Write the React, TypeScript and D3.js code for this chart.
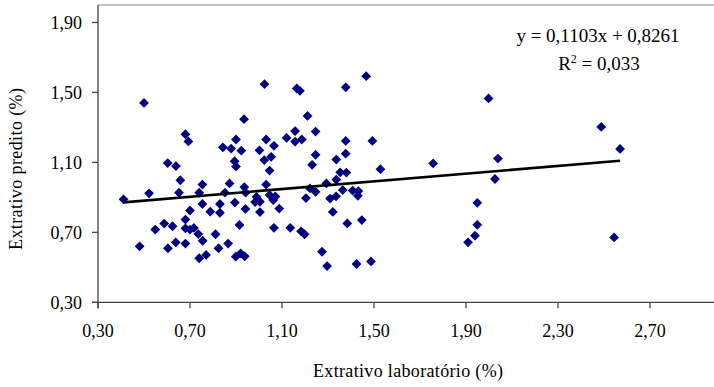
import React from "react";
import * as d3 from "d3";

// Extrativo laboratório (%) – x values
const labX: number[] = [
  0.50, 1.024, 1.164, 1.178, 1.377, 1.466, 0.935, 1.211, 0.680, 0.693,
  0.900, 0.843, 0.879, 0.923, 0.894, 0.900, 0.603, 0.639, 1.031, 1.065,
  1.002, 1.023, 1.053, 1.046, 1.120, 1.157, 1.246, 1.157, 1.186, 1.377,
  1.493, 1.246, 1.377, 1.231, 1.336, 1.353, 1.380, 1.528, 0.411, 0.522,
  0.658, 0.652, 0.754, 0.740, 0.872, 0.852, 0.936, 0.942, 1.031, 0.989,
  1.004, 0.983, 1.046, 1.071, 1.062, 1.004, 1.088, 1.204, 1.222, 1.246,
  1.293, 1.336, 1.309, 1.335, 1.364, 1.407, 1.432, 1.430, 1.321, 1.384,
  1.447, 1.065, 1.136, 1.183, 1.198, 1.274, 1.296, 1.424, 1.487, 0.754,
  0.700, 0.788, 0.830, 0.830, 0.895, 0.941, 0.680, 0.549, 0.588, 0.624,
  0.680, 0.700, 0.717, 0.736, 0.755, 0.811, 0.915, 0.481, 0.604, 0.638,
  0.680, 0.824, 0.866, 0.740, 0.770, 0.899, 0.920, 0.938, 1.757, 1.998,
  2.039, 2.026, 1.949, 1.949, 1.939, 1.909, 2.488, 2.570, 2.544,
];

// Extrativo predito (%) – y values
const predY: number[] = [
  1.44, 1.547, 1.523, 1.509, 1.529, 1.593, 1.347, 1.366, 1.261, 1.220,
  1.231, 1.186, 1.179, 1.167, 1.107, 1.077, 1.096, 1.079, 1.231, 1.195,
  1.169, 1.113, 1.132, 1.053, 1.240, 1.279, 1.276, 1.219, 1.231, 1.223,
  1.223, 1.143, 1.150, 1.086, 1.116, 1.043, 1.042, 1.061, 0.889, 0.923,
  0.998, 0.927, 0.973, 0.927, 0.980, 0.927, 0.959, 0.927, 0.973, 0.903,
  0.875, 0.873, 0.914, 0.905, 0.885, 0.816, 0.836, 0.896, 0.951, 0.932,
  0.980, 1.001, 0.893, 0.906, 0.942, 0.939, 0.936, 0.909, 0.817, 0.751,
  0.770, 0.726, 0.726, 0.706, 0.689, 0.589, 0.507, 0.519, 0.534, 0.862,
  0.825, 0.818, 0.862, 0.812, 0.870, 0.834, 0.773, 0.716, 0.750, 0.735,
  0.723, 0.716, 0.725, 0.690, 0.652, 0.689, 0.742, 0.620, 0.609, 0.643,
  0.636, 0.609, 0.636, 0.552, 0.571, 0.561, 0.580, 0.563, 1.094, 1.466,
  1.122, 1.005, 0.869, 0.743, 0.681, 0.643, 1.303, 1.177, 0.671,
];

const xTicks = [0.3, 0.7, 1.1, 1.5, 1.9, 2.3, 2.7];
const yTicks = [0.3, 0.7, 1.1, 1.5, 1.9];
const slope = 0.1103;
const intercept = 0.8261;
const eqLabel = "y = 0,1103x + 0,8261";
const r2Value = "0,033";
const xTitle = "Extrativo laboratório (%)";
const yTitle = "Extrativo predito (%)";

const W = 714;
const H = 387;
const FONT = "'Liberation Serif', 'Times New Roman', serif";

export default function App() {
  const x = d3.scaleLinear().domain([0.3, 3.0]).range([98, 719]);
  const y = d3.scaleLinear().domain([0.3, 2.0]).range([302.3, 5]);
  const fmt = (v: number) => v.toFixed(2).replace(".", ",");
  const pts = labX.map((v, i) => ({ x: v, y: predY[i] }));
  const sym = d3.symbol().type(d3.symbolSquare).size(48)();
  const [xmin, xmax] = d3.extent(labX) as [number, number];
  const line = d3.line<number>().x((d) => x(d)).y((d) => y(slope * d + intercept));

  return (
    <div style={{ position: "absolute", left: 0, top: 0 }}>
      <svg width={W} height={H} style={{ display: "block", background: "#fff" }}>
        {/* top border */}
        <line x1={98} x2={W} y1={y(2.0)} y2={y(2.0)} stroke="#888" strokeWidth={1} />
        {/* axes */}
        <line x1={x(0.3)} x2={x(0.3)} y1={y(2.0)} y2={y(0.3) + 6} stroke="#444" strokeWidth={1.3} />
        <line x1={x(0.3) - 6} x2={W} y1={y(0.3)} y2={y(0.3)} stroke="#444" strokeWidth={1.3} />
        {yTicks.map((t) => (
          <g key={"y" + t}>
            <line x1={x(0.3) - 6} x2={x(0.3)} y1={y(t)} y2={y(t)} stroke="#444" strokeWidth={1.3} />
            <text x={82} y={y(t)} dy="0.35em" textAnchor="end" fontFamily={FONT} fontSize={18} fill="#000">
              {fmt(t)}
            </text>
          </g>
        ))}
        {xTicks.map((t) => (
          <g key={"x" + t}>
            <line x1={x(t)} x2={x(t)} y1={y(0.3)} y2={y(0.3) + 6} stroke="#444" strokeWidth={1.3} />
            <text x={x(t)} y={y(0.3) + 35} textAnchor="middle" fontFamily={FONT} fontSize={18} fill="#000">
              {fmt(t)}
            </text>
          </g>
        ))}
        {/* points */}
        {pts.map((p, i) => (
          <path key={i} d={sym} transform={`translate(${x(p.x)},${y(p.y)}) rotate(45)`} fill="#000080" />
        ))}
        {/* trend line */}
        <path d={line([xmin, xmax]) || ""} fill="none" stroke="#000" strokeWidth={2.6} />
        {/* equation */}
        <text x={598} y={42} textAnchor="middle" fontFamily={FONT} fontSize={19} fill="#000">
          {eqLabel}
        </text>
        <text x={599} y={70} textAnchor="middle" fontFamily={FONT} fontSize={19} fill="#000">
          R<tspan dy={-7} fontSize={12}>2</tspan>
          <tspan dy={7}> = {r2Value}</tspan>
        </text>
        {/* axis titles */}
        <text x={408} y={377} textAnchor="middle" fontFamily={FONT} fontSize={18} textLength={190} fill="#000">
          {xTitle}
        </text>
        <text
          transform={`translate(22,169) rotate(-90)`}
          textAnchor="middle"
          fontFamily={FONT}
          fontSize={18}
          textLength={162}
          fill="#000"
        >
          {yTitle}
        </text>
      </svg>
    </div>
  );
}
